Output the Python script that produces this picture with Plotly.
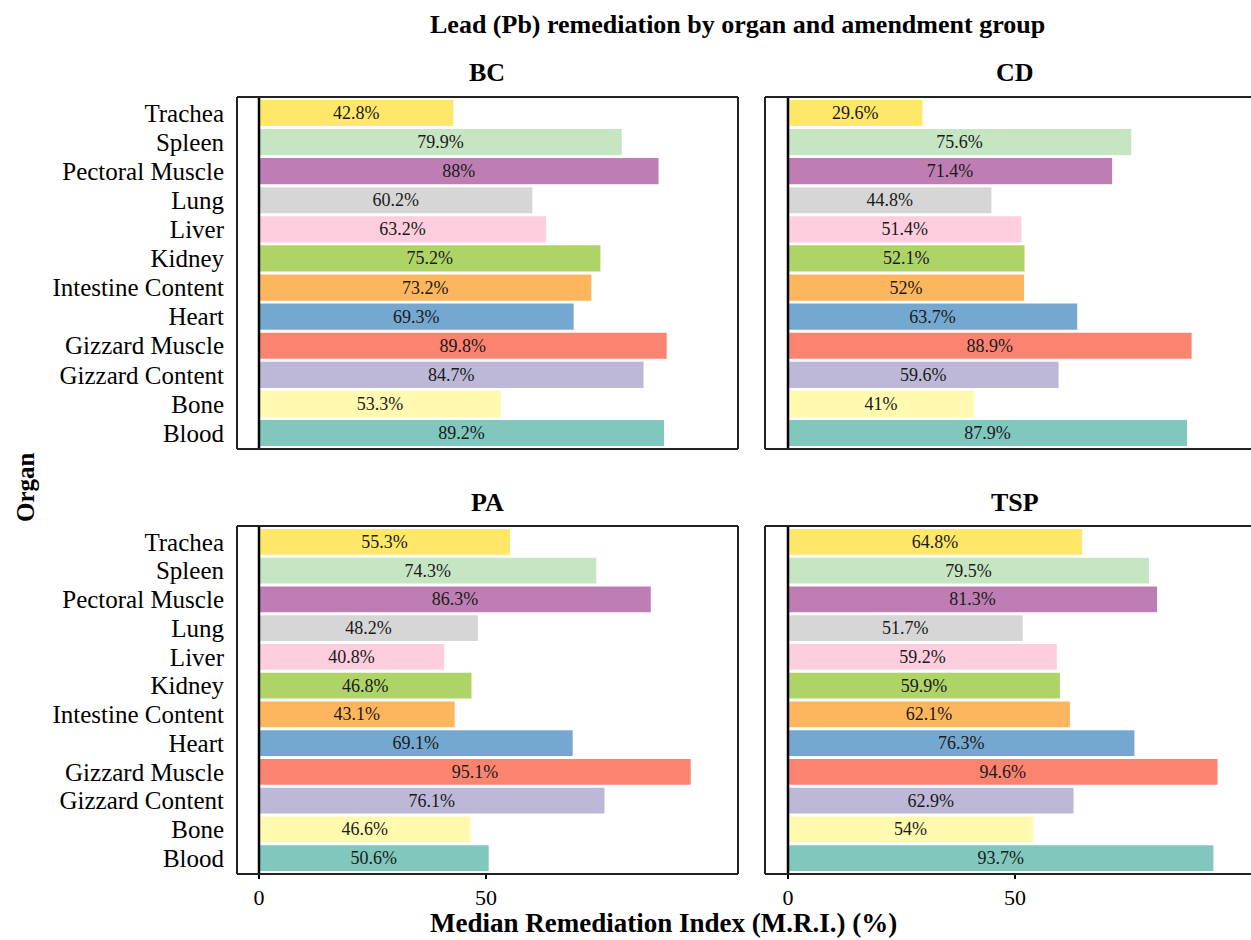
import plotly.graph_objects as go

# Organs, bottom to top
organs = ["Blood", "Bone", "Gizzard Content", "Gizzard Muscle", "Heart",
          "Intestine Content", "Kidney", "Liver", "Lung", "Pectoral Muscle",
          "Spleen", "Trachea"]

organ_colors = ["#80C7BE", "#FFFAAF", "#BDB8D8", "#FC8370", "#74A8D0",
                "#FEB65E", "#AED468", "#FECDDE", "#D6D6D6", "#BF7EB3",
                "#C6E5C2", "#FFE76A"]

groups = ["BC", "CD", "PA", "TSP"]

mri_bc = [89.2, 53.3, 84.7, 89.8, 69.3, 73.2, 75.2, 63.2, 60.2, 88.0, 79.9, 42.8]
mri_cd = [87.9, 41.0, 59.6, 88.9, 63.7, 52.0, 52.1, 51.4, 44.8, 71.4, 75.6, 29.6]
mri_pa = [50.6, 46.6, 76.1, 95.1, 69.1, 43.1, 46.8, 40.8, 48.2, 86.3, 74.3, 55.3]
mri_tsp = [93.7, 54.0, 62.9, 94.6, 76.3, 62.1, 59.9, 59.2, 51.7, 81.3, 79.5, 64.8]

x_ticks = [0, 50]

W, H = 1251, 940
FONT = "Liberation Serif"

series = [mri_bc, mri_cd, mri_pa, mri_tsp]

# panel boxes in pixels: (left, right) and (top, bottom)
left_x = (237, 738)
right_x = (765, 1251)
top_y = (97, 449)
bot_y = (526, 874)
px_per_unit = 4.54
zero_px_left = 259
zero_px_right = 788


def px_dom_x(a, b):
    return [a / W, b / W]


def px_dom_y(top, bottom):
    return [1 - bottom / H, 1 - top / H]


panels = [
    (left_x, top_y, zero_px_left, True, False),
    (right_x, top_y, zero_px_right, False, False),
    (left_x, bot_y, zero_px_left, True, True),
    (right_x, bot_y, zero_px_right, False, True),
]

fig = go.Figure()
layout = dict(
    width=W, height=H,
    margin=dict(l=0, r=0, t=0, b=0),
    paper_bgcolor="white", plot_bgcolor="white",
    showlegend=False,
    font=dict(family=FONT, color="black"),
    bargap=0.1,
)
shapes = []
annotations = []

for i, (vals, (xs, ys, zpx, show_y, show_x)) in enumerate(zip(series, panels)):
    n = "" if i == 0 else str(i + 1)
    xa, ya = "x" + n, "y" + n
    fig.add_trace(go.Bar(
        y=organs, x=vals, orientation="h",
        marker=dict(color=organ_colors, line=dict(width=0)),
        width=0.9,
        text=[f"{v:g}%" for v in vals],
        textposition="inside", insidetextanchor="middle",
        textangle=0, constraintext="none",
        textfont=dict(family=FONT, size=18, color="#1a1a1a"),
        xaxis=xa, yaxis=ya, hoverinfo="skip",
    ))
    lo = -(zpx - xs[0]) / px_per_unit
    hi = (xs[1] - zpx) / px_per_unit
    layout["xaxis" + n] = dict(
        domain=px_dom_x(*xs), range=[lo, hi], anchor=ya,
        showgrid=False, zeroline=False, showline=False,
        tickmode="array", tickvals=x_ticks, ticktext=[str(t) for t in x_ticks],
        showticklabels=show_x, ticks="outside" if show_x else "",
        ticklen=4, tickwidth=2, tickcolor="black",
        tickfont=dict(family=FONT, size=22, color="black"),
    )
    layout["yaxis" + n] = dict(
        domain=px_dom_y(*ys), anchor=xa,
        type="category", categoryorder="array", categoryarray=organs,
        tickmode="array", tickvals=organs, ticktext=organs,
        range=[-0.55, 11.55],
        showgrid=False, zeroline=False, showline=False,
        showticklabels=show_y, ticks="",
        ticklabelstandoff=12,
        tickfont=dict(family=FONT, size=25, color="black"),
    )
    # zero reference line
    shapes.append(dict(type="line", xref=xa, yref=ya + " domain",
                       x0=0, x1=0, y0=0, y1=1,
                       line=dict(color="black", width=2.5), layer="above"))
    # panel frame (right-hand panels run off the page edge)
    fx0, fx1 = xs[0] / W, xs[1] / W
    fy0, fy1 = px_dom_y(*ys)
    frame = dict(color="#222222", width=2)
    shapes.append(dict(type="line", xref="paper", yref="paper",
                       x0=fx0, x1=fx1 if show_y else 1.0, y0=fy1, y1=fy1, line=frame))
    shapes.append(dict(type="line", xref="paper", yref="paper",
                       x0=fx0, x1=fx1 if show_y else 1.0, y0=fy0, y1=fy0, line=frame))
    shapes.append(dict(type="line", xref="paper", yref="paper",
                       x0=fx0, x1=fx0, y0=fy0, y1=fy1, line=frame))
    if show_y:
        shapes.append(dict(type="line", xref="paper", yref="paper",
                           x0=fx1, x1=fx1, y0=fy0, y1=fy1, line=frame))
    # facet strip title
    cx = 487 if show_y else 1015
    ty = 72 if not show_x else 502
    annotations.append(dict(text=f"<b>{groups[i]}</b>", xref="paper", yref="paper",
                            x=cx / W, y=1 - ty / H, showarrow=False,
                            xanchor="center", yanchor="middle",
                            font=dict(family=FONT, size=26, color="black")))

annotations.append(dict(text="<b>Lead (Pb) remediation by organ and amendment group</b>",
                        xref="paper", yref="paper", x=737 / W, y=1 - 25 / H,
                        showarrow=False, xanchor="center", yanchor="middle",
                        font=dict(family=FONT, size=26, color="black")))
annotations.append(dict(text="<b>Median Remediation Index (M.R.I.) (%)</b>",
                        xref="paper", yref="paper", x=663 / W, y=0,
                        showarrow=False, xanchor="center", yanchor="bottom",
                        font=dict(family=FONT, size=27, color="black")))
annotations.append(dict(text="<b>Organ</b>", xref="paper", yref="paper",
                        x=25 / W, y=1 - 487 / H, textangle=-90,
                        showarrow=False, xanchor="center", yanchor="middle",
                        font=dict(family=FONT, size=25, color="black")))

layout["shapes"] = shapes
layout["annotations"] = annotations
fig.update_layout(**layout)
fig.write_html("out.html")
